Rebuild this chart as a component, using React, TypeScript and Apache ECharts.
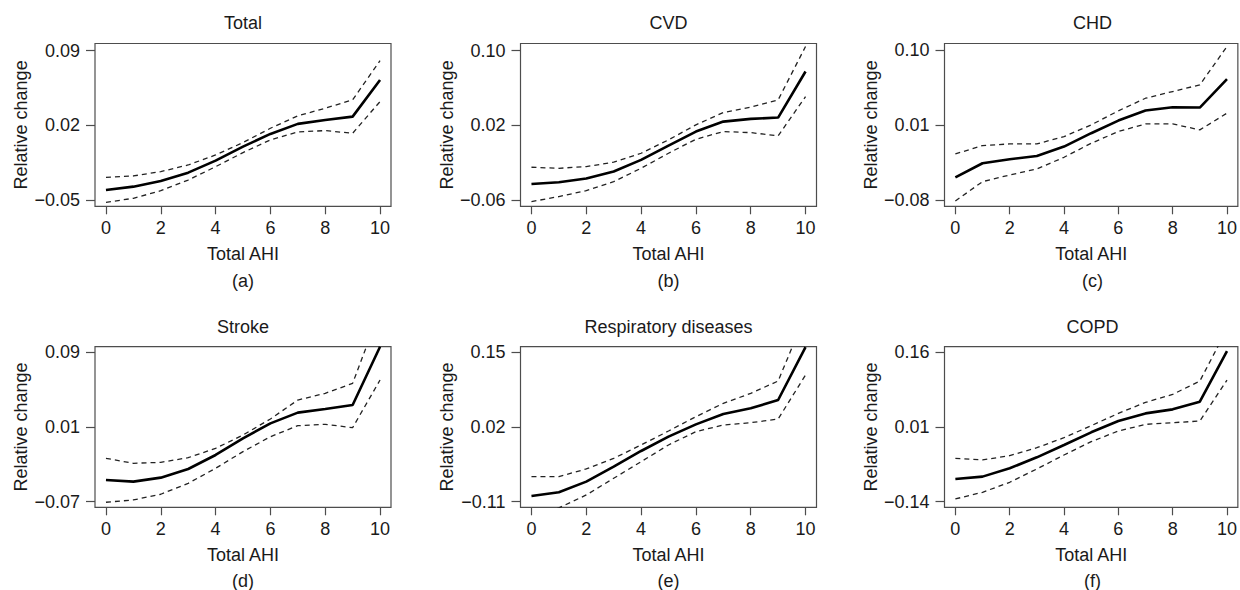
import React, { useEffect, useRef } from "react";
import * as echarts from "echarts";

// ---------- data ----------
const xValues = [0, 1, 2, 3, 4, 5, 6, 7, 8, 9, 10];
const xTicks = [0, 2, 4, 6, 8, 10];

const panelTitles = ["Total", "CVD", "CHD", "Stroke", "Respiratory diseases", "COPD"];
const panelTags = ["(a)", "(b)", "(c)", "(d)", "(e)", "(f)"];

// y tick labels per panel
const yTicksA = [-0.05, 0.02, 0.09];
const yTicksB = [-0.06, 0.02, 0.1];
const yTicksC = [-0.08, 0.01, 0.1];
const yTicksD = [-0.07, 0.01, 0.09];
const yTicksE = [-0.11, 0.02, 0.15];
const yTicksF = [-0.14, 0.01, 0.16];

// axis ranges per panel
const yMinAll = [-0.0559, -0.0668, -0.0876, -0.0761, -0.1199, -0.1515];
const yMaxAll = [0.0966, 0.1075, 0.1084, 0.0961, 0.1599, 0.1715];

// (a) Total
const estA = [-0.0406, -0.0375, -0.0322, -0.0244, -0.0131, 0.0, 0.0119, 0.0213, 0.025, 0.0281, 0.0625];
const upA = [-0.0288, -0.0275, -0.0234, -0.0172, -0.0078, 0.0038, 0.0172, 0.0288, 0.036, 0.0438, 0.0806];
const loA = [-0.0522, -0.0484, -0.0413, -0.0313, -0.0188, -0.0056, 0.0063, 0.0138, 0.015, 0.0125, 0.0422];

// (b) CVD
const estB = [-0.0429, -0.0411, -0.0371, -0.0296, -0.0171, -0.0018, 0.0132, 0.0239, 0.0268, 0.0282, 0.0775];
const upB = [-0.025, -0.0261, -0.0243, -0.0196, -0.01, 0.0043, 0.0204, 0.0336, 0.0393, 0.0471, 0.1043];
const loB = [-0.0618, -0.0564, -0.05, -0.0404, -0.0261, -0.01, 0.005, 0.0132, 0.0121, 0.0086, 0.0507];

// (c) CHD
const estC = [-0.0527, -0.0358, -0.031, -0.027, -0.0157, 0.0004, 0.0156, 0.0277, 0.0317, 0.0313, 0.0654];
const upC = [-0.0245, -0.0145, -0.0125, -0.0125, -0.0037, 0.0104, 0.0273, 0.0425, 0.0506, 0.0586, 0.1048];
const loC = [-0.0812, -0.0579, -0.0499, -0.0426, -0.0286, -0.0117, 0.0024, 0.0116, 0.0116, 0.0044, 0.0245];

// (d) Stroke
const estD = [-0.0468, -0.0486, -0.0443, -0.035, -0.02, -0.0021, 0.0139, 0.0254, 0.0293, 0.0336, 0.096];
const upD = [-0.0236, -0.0289, -0.0279, -0.0229, -0.0129, 0.0014, 0.0186, 0.0389, 0.0461, 0.0568, 0.135];
const loD = [-0.0707, -0.0682, -0.0621, -0.0504, -0.0343, -0.0164, -0.0004, 0.0114, 0.0129, 0.0093, 0.0604];

// (e) Respiratory diseases
const estE = [-0.1001, -0.0938, -0.0752, -0.0491, -0.0218, 0.0032, 0.0246, 0.0426, 0.0525, 0.067, 0.159];
const upE = [-0.0665, -0.0665, -0.0531, -0.0346, -0.0113, 0.013, 0.038, 0.0612, 0.0786, 0.1001, 0.215];
const loE = [-0.135, -0.121, -0.0984, -0.0694, -0.0404, -0.0113, 0.0119, 0.0235, 0.0275, 0.0339, 0.1105];

// (f) COPD
const estF = [-0.0945, -0.0898, -0.0731, -0.051, -0.0262, -0.0007, 0.022, 0.0374, 0.0455, 0.0609, 0.1627];
const upF = [-0.053, -0.0563, -0.0476, -0.0316, -0.0115, 0.0126, 0.0374, 0.0595, 0.0756, 0.1024, 0.207];
const loF = [-0.1347, -0.1213, -0.1012, -0.0744, -0.0463, -0.0195, 0.0019, 0.0153, 0.0187, 0.022, 0.1044];

const yTicksAll = [yTicksA, yTicksB, yTicksC, yTicksD, yTicksE, yTicksF];
const estAll = [estA, estB, estC, estD, estE, estF];
const upAll = [upA, upB, upC, upD, upE, upF];
const loAll = [loA, loB, loC, loD, loE, loF];

// ---------- layout ----------
const FONT = "Liberation Sans, Arial, Helvetica, sans-serif";
const FS = 18;
const TEXT = "#1a1a1a";
const AXIS = "#4d4d4d";
const colLeft = [95, 520.5, 944.5];
const gridW = 296;
const rowTop = [43.5, 346.7];
const rowH = [162.8, 160.6];
const titleY = [23, 327];
const tagY = [281, 581];

const fmtY = (v: number) => {
  const s = Math.abs(v).toFixed(2);
  return v < 0 ? "\u2212" + s : s;
};

function buildOption() {
  const grid: any[] = [];
  const xAxis: any[] = [];
  const yAxis: any[] = [];
  const series: any[] = [];
  const graphic: any[] = [];

  for (let i = 0; i < 6; i++) {
    const r = Math.floor(i / 3);
    const c = i % 3;
    grid.push({
      left: colLeft[c],
      top: rowTop[r],
      width: gridW,
      height: rowH[r],
      show: true,
      borderColor: AXIS,
      borderWidth: 1.2,
      backgroundColor: "transparent",
      containLabel: false,
    });
    xAxis.push({
      type: "value",
      gridIndex: i,
      position: "bottom",
      min: -0.4,
      max: 10.4,
      axisLine: { show: false, onZero: false },
      splitLine: { show: false },
      axisTick: {
        show: true,
        length: 8,
        customValues: xTicks,
        lineStyle: { color: AXIS, width: 1.2 },
      },
      axisLabel: {
        customValues: xTicks,
        margin: 13,
        fontSize: FS,
        fontFamily: FONT,
        color: TEXT,
        formatter: (v: number) => String(v),
      },
      name: "Total AHI",
      nameLocation: "middle",
      nameGap: 39,
      nameTextStyle: { fontSize: FS, fontFamily: FONT, color: TEXT },
    });
    yAxis.push({
      type: "value",
      gridIndex: i,
      position: "left",
      min: yMinAll[i],
      max: yMaxAll[i],
      axisLine: { show: false, onZero: false },
      splitLine: { show: false },
      axisTick: {
        show: true,
        length: 9,
        customValues: yTicksAll[i],
        lineStyle: { color: AXIS, width: 1.2 },
      },
      axisLabel: {
        customValues: yTicksAll[i],
        margin: 15,
        fontSize: FS,
        fontFamily: FONT,
        color: TEXT,
        formatter: fmtY,
      },
      name: "Relative change",
      nameLocation: "middle",
      nameRotate: 90,
      nameGap: 65,
      nameTextStyle: { fontSize: FS, fontFamily: FONT, color: TEXT },
    });
    const mk = (vals: number[]) => xValues.map((x, k) => [x, vals[k]]);
    series.push({
      type: "line",
      xAxisIndex: i,
      yAxisIndex: i,
      data: mk(estAll[i]),
      showSymbol: false,
      clip: true,
      lineStyle: { color: "#000", width: 2.6, type: "solid" },
      z: 3,
    });
    series.push({
      type: "line",
      xAxisIndex: i,
      yAxisIndex: i,
      data: mk(upAll[i]),
      showSymbol: false,
      clip: true,
      lineStyle: { color: "#222", width: 1.3, type: [5, 4] },
      z: 2,
    });
    series.push({
      type: "line",
      xAxisIndex: i,
      yAxisIndex: i,
      data: mk(loAll[i]),
      showSymbol: false,
      clip: true,
      lineStyle: { color: "#222", width: 1.3, type: [5, 4] },
      z: 2,
    });
    const cx = colLeft[c] + gridW / 2;
    graphic.push({
      type: "text",
      x: cx,
      y: titleY[r],
      style: {
        text: panelTitles[i],
        fontSize: FS,
        fontFamily: FONT,
        fill: TEXT,
        textAlign: "center",
        textVerticalAlign: "middle",
      },
    });
    graphic.push({
      type: "text",
      x: cx,
      y: tagY[r],
      style: {
        text: panelTags[i],
        fontSize: FS,
        fontFamily: FONT,
        fill: TEXT,
        textAlign: "center",
        textVerticalAlign: "middle",
      },
    });
  }

  return {
    animation: false,
    backgroundColor: "#ffffff",
    grid,
    xAxis,
    yAxis,
    series,
    graphic,
  };
}

export default function App() {
  const ref = useRef<HTMLDivElement>(null);
  useEffect(() => {
    document.body.style.margin = "0";
    if (!ref.current) return;
    const chart = echarts.init(ref.current, undefined, { renderer: "svg" });
    chart.setOption(buildOption() as any);
    return () => chart.dispose();
  }, []);
  return <div ref={ref} style={{ width: 1240, height: 590 }} />;
}
